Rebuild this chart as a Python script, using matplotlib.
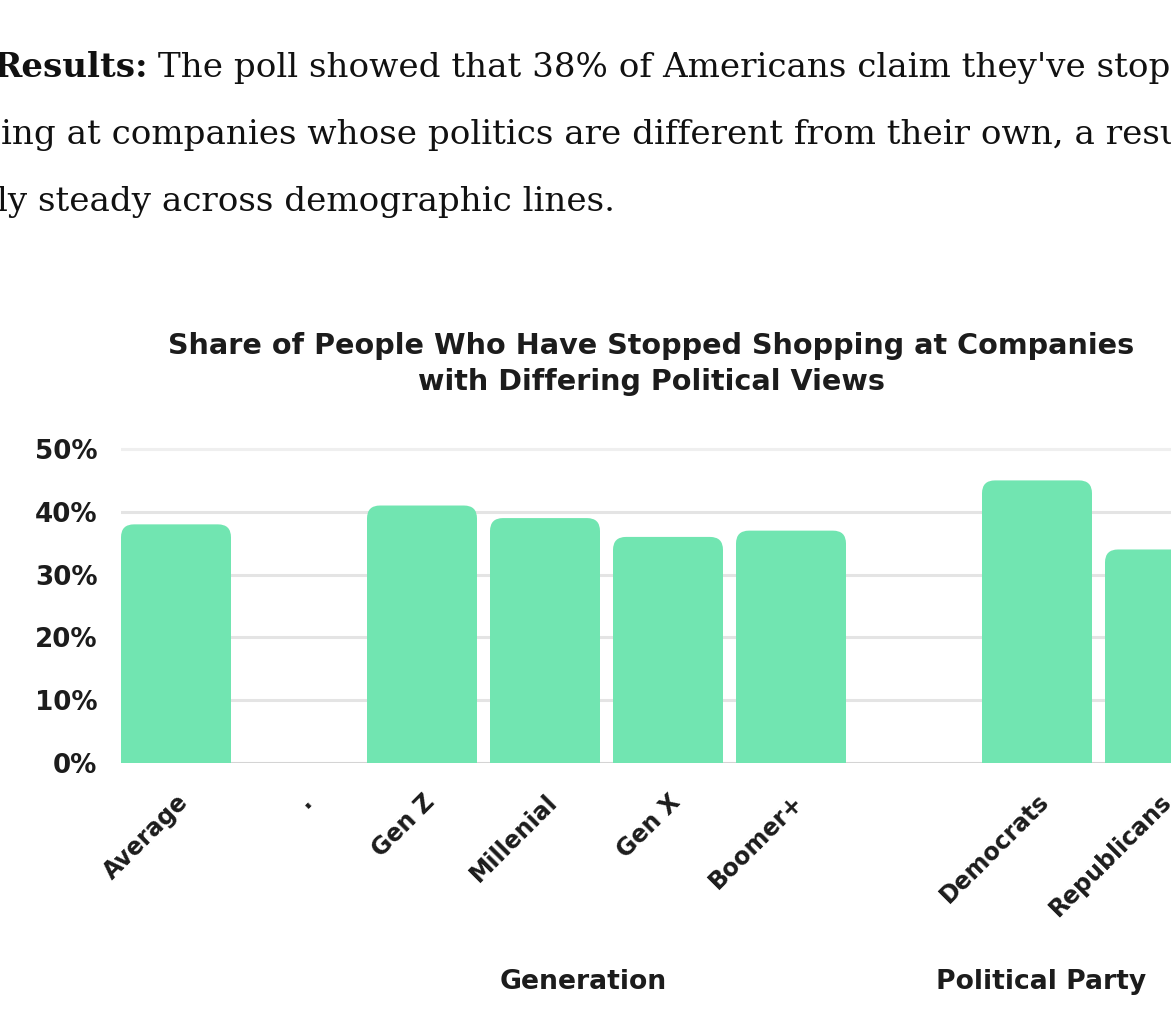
import numpy as np
import matplotlib
matplotlib.use("Agg")
import matplotlib.pyplot as plt
from matplotlib.path import Path
from matplotlib.patches import PathPatch
from matplotlib.transforms import blended_transform_factory

# chart data
categories = ["Average", ".", "Gen Z", "Millenial", "Gen X", "Boomer+", "", "Democrats", "Republicans"]
values = [38, 0, 41, 39, 36, 37, 0, 45, 34]
y_ticks = [0, 10, 20, 30, 40, 50]
y_tick_labels = ["0%", "10%", "20%", "30%", "40%", "50%"]
groups = ["Generation", "Political Party"]
group_pos = [3.31, 7.03]

title = "Share of People Who Have Stopped Shopping at Companies\nwith Differing Political Views"
para_bold = "Results:"
para_lines = [
    " The poll showed that 38% of Americans claim they've stopped shopp",
    "ing at companies whose politics are different from their own, a result that held",
    "ly steady across demographic lines.",
]

BAR = "#71e5b1"
INK = "#1c1c1c"
GRID = "#e4e4e4"
SANS = "DejaVu Sans"

W, H = 1171, 1017
fig = plt.figure(figsize=(W / 100, H / 100), dpi=100)
fig.patch.set_facecolor("white")

# --- paragraph text above the chart (clipped at both sides like the screenshot)
renderer = fig.canvas.get_renderer()
probe = fig.text(0, 0, para_lines[2], family="DejaVu Serif", fontsize=10)
pw = probe.get_window_extent(renderer).width
probe.remove()
pfs = 10 * 621 / pw

baselines = [77, 144, 211]
t0 = fig.text(0, 1 - baselines[0] / H, para_bold, family="DejaVu Serif",
              fontweight="bold", fontsize=pfs, color="#111111", va="baseline")
bw = t0.get_window_extent(renderer).width
xr = 147  # start of the regular part (leading space included)
t0.set_x((xr + 1 - bw) / W)
fig.text(xr / W, 1 - baselines[0] / H, para_lines[0], family="DejaVu Serif",
         fontsize=pfs, color="#111111", va="baseline")
fig.text(1 / W, 1 - baselines[1] / H, para_lines[1], family="DejaVu Serif",
         fontsize=pfs, color="#111111", va="baseline")
fig.text(-3 / W, 1 - baselines[2] / H, para_lines[2], family="DejaVu Serif",
         fontsize=pfs, color="#111111", va="baseline")

# --- chart title
fig.text(651 / W, 1 - 364 / H, title, ha="center", va="center", family=SANS,
         fontweight="bold", fontsize=20.6, color=INK, linespacing=1.38)

# --- axes
slot = 123.0
px10 = 62.8
ymax = 52
ax_h = ymax / 10 * px10
ax = fig.add_axes([121 / W, (H - 763) / H, 1 - 121 / W, ax_h / H])
width = 110 / slot
x = np.arange(len(categories))
bars = ax.bar(x, values, width=width, color=BAR, zorder=2)

ax.set_xlim(-width / 2, -width / 2 + (W - 121) / slot)
ax.set_ylim(0, ymax)

# rounded top corners
rx = 13 / slot
ry = 13 / px10 * 10
for b in bars:
    b.set_visible(False)
    h = b.get_height()
    if h <= 0:
        continue
    x0, w = b.get_x(), b.get_width()
    verts = [(x0, 0), (x0, h - ry), (x0, h), (x0 + rx, h), (x0 + w - rx, h),
             (x0 + w, h), (x0 + w, h - ry), (x0 + w, 0), (x0, 0)]
    codes = [Path.MOVETO, Path.LINETO, Path.CURVE3, Path.CURVE3, Path.LINETO,
             Path.CURVE3, Path.CURVE3, Path.LINETO, Path.CLOSEPOLY]
    ax.add_patch(PathPatch(Path(verts, codes), facecolor=BAR, edgecolor="none", zorder=2))

for s in ax.spines.values():
    s.set_visible(False)
ax.set_yticks(y_ticks)
ax.set_yticklabels(y_tick_labels, family=SANS, fontweight="bold", fontsize=18.8, color=INK)
ax.tick_params(axis="y", length=0, pad=17)
for yv in y_ticks:
    col = "#d4d4d4" if yv == 0 else ("#efefef" if yv == 50 else GRID)
    ax.axhline(yv, color=col, lw=2.2, zorder=1)

ax.set_xticks(x)
ax.set_xticklabels(categories, rotation=45, ha="right", rotation_mode="anchor",
                   family=SANS, fontweight="bold", fontsize=17, color=INK)
ax.tick_params(axis="x", length=0, pad=19)

trans = blended_transform_factory(ax.transData, fig.transFigure)
for g, gx in zip(groups, group_pos):
    ax.text(gx, 1 - 982 / H, g, transform=trans, ha="center", va="center",
            family=SANS, fontweight="bold", fontsize=19.2, color=INK)

fig.savefig("out.png", dpi=100, facecolor="white")
